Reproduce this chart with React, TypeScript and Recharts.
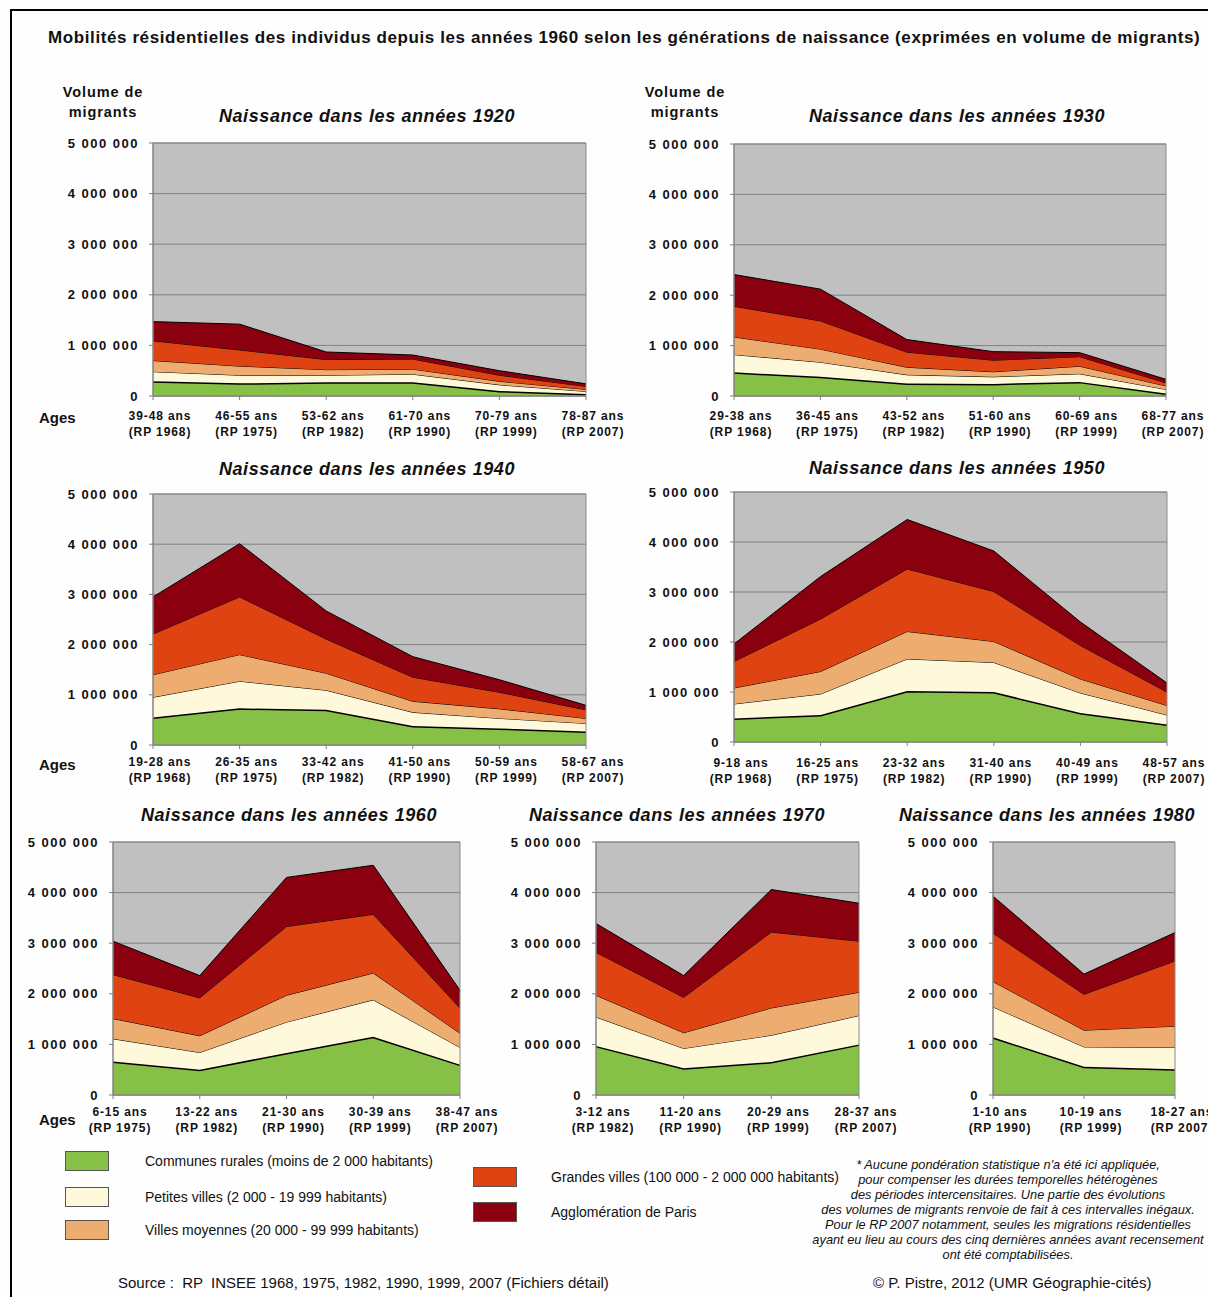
import React from 'react';
import { AreaChart, Area, XAxis, YAxis, CartesianGrid, ReferenceArea } from 'recharts';

const FONT = '"Liberation Sans", Arial, sans-serif';

// census labels and value axis ticks
const censuses = ['RP 1968', 'RP 1975', 'RP 1982', 'RP 1990', 'RP 1999', 'RP 2007'];
const yTicks = [0, 1000000, 2000000, 3000000, 4000000, 5000000];

// generation 1920
const ages1920 = ['39-48 ans', '46-55 ans', '53-62 ans', '61-70 ans', '70-79 ans', '78-87 ans'];
const rural1920 = [290000, 250000, 270000, 270000, 100000, 40000];
const petites1920 = [190000, 160000, 140000, 160000, 120000, 50000];
const moyennes1920 = [220000, 180000, 110000, 100000, 70000, 40000];
const grandes1920 = [390000, 320000, 200000, 200000, 120000, 60000];
const paris1920 = [380000, 510000, 150000, 80000, 90000, 50000];

// generation 1930
const ages1930 = ['29-38 ans', '36-45 ans', '43-52 ans', '51-60 ans', '60-69 ans', '68-77 ans'];
const rural1930 = [470000, 380000, 250000, 240000, 280000, 50000];
const petites1930 = [350000, 290000, 170000, 140000, 160000, 80000];
const moyennes1930 = [350000, 260000, 150000, 100000, 150000, 70000];
const grandes1930 = [610000, 560000, 300000, 230000, 190000, 60000];
const paris1930 = [630000, 630000, 250000, 170000, 80000, 70000];

// generation 1940
const ages1940 = ['19-28 ans', '26-35 ans', '33-42 ans', '41-50 ans', '50-59 ans', '58-67 ans'];
const rural1940 = [550000, 730000, 700000, 380000, 330000, 270000];
const petites1940 = [400000, 540000, 390000, 270000, 200000, 160000];
const moyennes1940 = [450000, 530000, 340000, 220000, 190000, 100000];
const grandes1940 = [810000, 1150000, 680000, 480000, 330000, 170000];
const paris1940 = [740000, 1060000, 560000, 410000, 250000, 90000];

// generation 1950
const ages1950 = ['9-18 ans', '16-25 ans', '23-32 ans', '31-40 ans', '40-49 ans', '48-57 ans'];
const rural1950 = [470000, 540000, 1020000, 1000000, 580000, 350000];
const petites1950 = [290000, 420000, 640000, 590000, 400000, 190000];
const moyennes1950 = [320000, 450000, 550000, 420000, 280000, 190000];
const grandes1950 = [530000, 1050000, 1250000, 1000000, 670000, 270000];
const paris1950 = [350000, 850000, 990000, 810000, 470000, 180000];

// generation 1960
const ages1960 = ['6-15 ans', '13-22 ans', '21-30 ans', '30-39 ans', '38-47 ans'];
const rural1960 = [660000, 500000, 830000, 1150000, 600000];
const petites1960 = [450000, 340000, 610000, 730000, 340000];
const moyennes1960 = [400000, 330000, 530000, 530000, 280000];
const grandes1960 = [870000, 750000, 1360000, 1160000, 500000];
const paris1960 = [660000, 440000, 970000, 970000, 350000];

// generation 1970
const ages1970 = ['3-12 ans', '11-20 ans', '20-29 ans', '28-37 ans'];
const rural1970 = [970000, 530000, 650000, 1000000];
const petites1970 = [570000, 390000, 530000, 570000];
const moyennes1970 = [430000, 310000, 540000, 460000];
const grandes1970 = [850000, 700000, 1500000, 1010000];
const paris1970 = [570000, 430000, 840000, 750000];

// generation 1980
const ages1980 = ['1-10 ans', '10-19 ans', '18-27 ans'];
const rural1980 = [1140000, 560000, 510000];
const petites1980 = [600000, 390000, 430000];
const moyennes1980 = [500000, 330000, 420000];
const grandes1980 = [960000, 710000, 1290000];
const paris1980 = [730000, 400000, 560000];

const series = [
  { key: 'rural', name: 'Communes rurales (moins de 2 000 habitants)', color: '#86C046', width: 3 },
  { key: 'petites', name: 'Petites villes (2 000 - 19 999 habitants)', color: '#FFF9DC', width: 1 },
  { key: 'moyennes', name: 'Villes moyennes (20 000 - 99 999 habitants)', color: '#EDAC70', width: 1 },
  { key: 'grandes', name: 'Grandes villes (100 000 - 2 000 000 habitants)', color: '#DF4311', width: 1 },
  { key: 'paris', name: 'Agglomération de Paris', color: '#8A000E', width: 1 },
];

function buildData(ages: string[], rural: number[], petites: number[], moyennes: number[], grandes: number[], paris: number[]) {
  const rp = censuses.slice(censuses.length - ages.length);
  return ages.map((age, i) => ({
    age,
    rp: rp[i],
    rural: rural[i],
    petites: petites[i],
    moyennes: moyennes[i],
    grandes: grandes[i],
    paris: paris[i],
  }));
}

const fmt = (v: number) => String(v).replace(/\B(?=(\d{3})+(?!\d))/g, ' ');

const panels = [
  { title: 'Naissance dans les années 1920', data: buildData(ages1920, rural1920, petites1920, moyennes1920, grandes1920, paris1920), left: 153, right: 586, top: 143, bottom: 396, titleX: 367, titleY: 116, labelOff: 20 },
  { title: 'Naissance dans les années 1930', data: buildData(ages1930, rural1930, petites1930, moyennes1930, grandes1930, paris1930), left: 734, right: 1166, top: 144, bottom: 396, titleX: 957, titleY: 116, labelOff: 20 },
  { title: 'Naissance dans les années 1940', data: buildData(ages1940, rural1940, petites1940, moyennes1940, grandes1940, paris1940), left: 153, right: 586, top: 494, bottom: 745, titleX: 367, titleY: 469, labelOff: 17 },
  { title: 'Naissance dans les années 1950', data: buildData(ages1950, rural1950, petites1950, moyennes1950, grandes1950, paris1950), left: 734, right: 1167, top: 492, bottom: 742, titleX: 957, titleY: 468, labelOff: 21 },
  { title: 'Naissance dans les années 1960', data: buildData(ages1960, rural1960, petites1960, moyennes1960, grandes1960, paris1960), left: 113, right: 460, top: 842, bottom: 1095, titleX: 289, titleY: 815, labelOff: 17 },
  { title: 'Naissance dans les années 1970', data: buildData(ages1970, rural1970, petites1970, moyennes1970, grandes1970, paris1970), left: 596, right: 859, top: 842, bottom: 1095, titleX: 677, titleY: 815, labelOff: 17 },
  { title: 'Naissance dans les années 1980', data: buildData(ages1980, rural1980, petites1980, moyennes1980, grandes1980, paris1980), left: 993, right: 1175, top: 842, bottom: 1095, titleX: 1047, titleY: 815, labelOff: 17 },
];

const YW = 100;
const MT = 12;
const MR = 60;
const XH = 50;

function Txt({ x, y, lh = 18, align = 'left', style, children }: any) {
  const tx = align === 'center' ? 'translateX(-50%)' : align === 'right' ? 'translateX(-100%)' : 'none';
  return (
    <div
      style={{
        position: 'absolute',
        left: x,
        top: y - lh / 2,
        lineHeight: `${lh}px`,
        whiteSpace: 'nowrap',
        transform: tx,
        textAlign: align,
        color: '#111',
        ...style,
      }}
    >
      {children}
    </div>
  );
}

function Panel({ p }: any) {
  const w = p.right - p.left + YW + MR;
  const h = p.bottom - p.top + MT + XH;
  const cats = p.data.map((d: any) => d.age);
  const ageTick = (t: any) => {
    const row = p.data[t.payload.index];
    const cx = t.x + 7;
    return (
      <text x={cx} y={t.y} textAnchor="middle" fontFamily={FONT} fontWeight="bold" fontSize={12} letterSpacing={0.9} fill="#111">
        <tspan x={cx} dy={p.labelOff - 6 + 4.3}>{t.payload.value}</tspan>
        <tspan x={cx} dy={16}>({row.rp})</tspan>
      </text>
    );
  };
  const volTick = (t: any) => (
    <text x={t.x} y={t.y} dy={4.6} textAnchor="end" fontFamily={FONT} fontWeight="bold" fontSize={13} letterSpacing={1.5} fill="#111">
      {fmt(t.payload.value)}
    </text>
  );
  return (
    <>
      <Txt x={p.titleX} y={p.titleY} lh={22} align="center" style={{ fontSize: 18, fontWeight: 'bold', fontStyle: 'italic', letterSpacing: 0.6 }}>
        {p.title}
      </Txt>
      <div style={{ position: 'absolute', left: p.left - YW, top: p.top - MT }}>
        <AreaChart width={w} height={h} data={p.data} margin={{ top: MT, right: MR, bottom: 0, left: 0 }}>
          <CartesianGrid vertical={false} fill="#C0C0C0" fillOpacity={1} stroke="#808080" strokeWidth={1} />
          <XAxis
            dataKey="age"
            height={XH}
            interval={0}
            tickSize={4}
            tickMargin={2}
            stroke="#808080"
            tick={ageTick}
          />
          <YAxis
            width={YW}
            domain={[0, 5000000]}
            ticks={yTicks}
            interval={0}
            tickSize={4}
            tickMargin={10}
            stroke="#808080"
            tick={volTick}
          />
          {series.map((s) => (
            <Area
              key={s.key}
              type="linear"
              dataKey={s.key}
              name={s.name}
              stackId="1"
              fill={s.color}
              fillOpacity={1}
              stroke="#000"
              strokeWidth={s.width}
              dot={false}
              activeDot={false}
              isAnimationActive={false}
            />
          ))}
          <ReferenceArea x1={cats[0]} x2={cats[cats.length - 1]} y1={0} y2={5000000} fill="none" stroke="#8a8a8a" strokeWidth={1} />
        </AreaChart>
      </div>
    </>
  );
}

const noteLines = [
  "* Aucune pondération statistique n'a été ici appliquée,",
  'pour compenser les durées temporelles hétérogènes',
  'des périodes intercensitaires. Une partie des évolutions',
  'des volumes de migrants renvoie de fait à ces intervalles inégaux.',
  'Pour le RP 2007 notamment, seules les migrations résidentielles',
  'ayant eu lieu au cours des cinq dernières années avant recensement',
  'ont été comptabilisées.',
];

const legendPos = [
  { x: 65, y: 1151, tx: 145 },
  { x: 65, y: 1187, tx: 145 },
  { x: 65, y: 1220, tx: 145 },
  { x: 473, y: 1167, tx: 551 },
  { x: 473, y: 1202, tx: 551 },
];

export default function App() {
  return (
    <div
      style={{
        position: 'absolute',
        left: 0,
        top: 0,
        width: 1208,
        height: 1297,
        overflow: 'hidden',
        background: '#FEFEFE',
        fontFamily: FONT,
      }}
    >
      <div
        style={{
          position: 'absolute',
          left: 10,
          top: 9,
          width: 1400,
          height: 1400,
          borderTop: '2px solid #000',
          borderLeft: '2px solid #000',
        }}
      />
      <Txt x={48} y={38} lh={22} style={{ fontSize: 17, fontWeight: 'bold', letterSpacing: 0.6 }}>
        Mobilités résidentielles des individus depuis les années 1960 selon les générations de naissance (exprimées en volume de migrants)
      </Txt>

      {[103, 685].map((x) => (
        <div
          key={x}
          style={{
            position: 'absolute',
            left: x,
            top: 82,
            transform: 'translateX(-50%)',
            textAlign: 'center',
            fontSize: 14.5,
            fontWeight: 'bold',
            letterSpacing: 0.9,
            lineHeight: '20px',
            color: '#111',
            whiteSpace: 'nowrap',
          }}
        >
          Volume de
          <br />
          migrants
        </div>
      ))}
      {[418, 765, 1120].map((y) => (
        <Txt key={y} x={39} y={y} lh={20} style={{ fontSize: 15, fontWeight: 'bold' }}>
          Ages
        </Txt>
      ))}

      {panels.map((p) => (
        <Panel key={p.title} p={p} />
      ))}

      {series.map((s, i) => (
        <React.Fragment key={s.key}>
          <div
            style={{
              position: 'absolute',
              left: legendPos[i].x,
              top: legendPos[i].y,
              width: 42,
              height: 18,
              background: s.color,
              border: '1px solid #555',
            }}
          />
          <Txt x={legendPos[i].tx} y={legendPos[i].y + 10} lh={16} style={{ fontSize: 14 }}>
            {s.name}
          </Txt>
        </React.Fragment>
      ))}

      {noteLines.map((line, i) => (
        <Txt key={i} x={1008} y={1164 + i * 15} lh={15} align="center" style={{ fontSize: 12.8, fontStyle: 'italic' }}>
          {line}
        </Txt>
      ))}

      <Txt x={118} y={1283} lh={18} style={{ fontSize: 15, whiteSpace: 'pre' }}>
        {'Source :  RP  INSEE 1968, 1975, 1982, 1990, 1999, 2007 (Fichiers détail)'}
      </Txt>
      <Txt x={873} y={1283} lh={18} style={{ fontSize: 15 }}>
        © P. Pistre, 2012 (UMR Géographie-cités)
      </Txt>
    </div>
  );
}
